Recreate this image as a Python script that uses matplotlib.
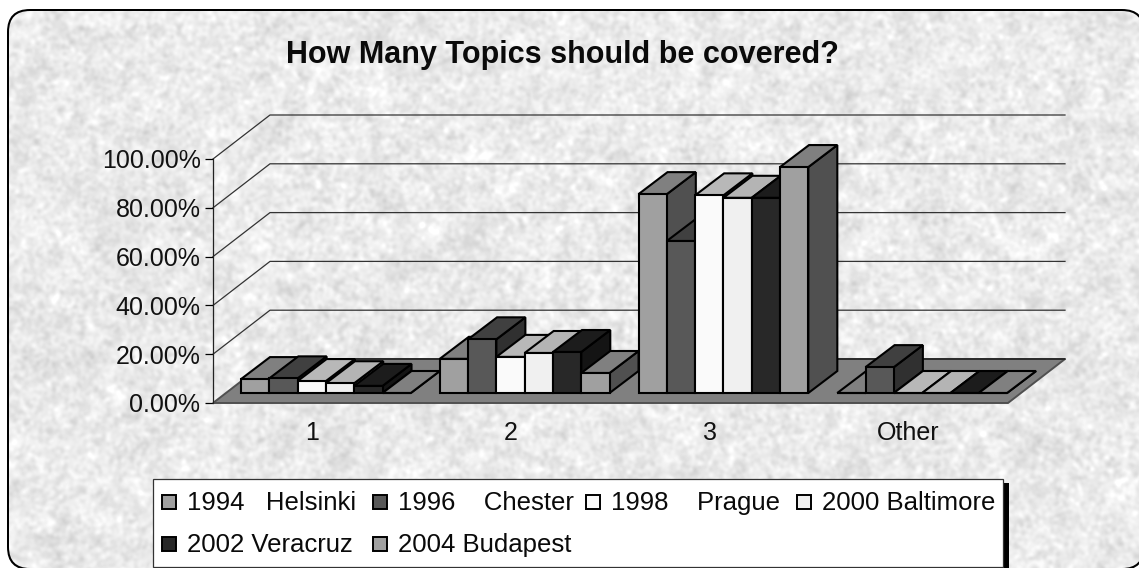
import numpy as np
import matplotlib
matplotlib.use('Agg')
import matplotlib.pyplot as plt
from matplotlib.patches import FancyBboxPatch, Polygon, Rectangle

plt.rcParams['font.family'] = ['Liberation Sans', 'DejaVu Sans']

W, H = 1139, 568

categories = ['1', '2', '3', 'Other']
series_names = ['1994   Helsinki', '1996    Chester', '1998    Prague',
                '2000 Baltimore', '2002 Veracruz', '2004 Budapest']
helsinki = [5.7, 14.0, 81.5, 0.0]
chester = [6.0, 22.0, 62.3, 10.6]
prague = [4.9, 14.8, 81.0, 0.0]
baltimore = [4.0, 16.4, 80.0, 0.0]
veracruz = [2.9, 16.8, 80.0, 0.0]
budapest = [0.0, 8.2, 92.6, 0.0]
y_ticks = [0, 20, 40, 60, 80, 100]
y_labels = ['0.00%', '20.00%', '40.00%', '60.00%', '80.00%', '100.00%']

series = [helsinki, chester, prague, baltimore, veracruz, budapest]
front_cols = ['#a0a0a0', '#585858', '#fafafa', '#f0f0f0', '#282828', '#a0a0a0']
top_cols = ['#808080', '#404040', '#b8b8b8', '#b4b4b4', '#1c1c1c', '#808080']
side_cols = ['#505050', '#303030', '#7c7c7c', '#787878', '#141414', '#505050']


def px_box(x0, y0, x1, y1):
    # pixel box, y down from the top, to figure fractions
    return [x0 / W, 1 - y1 / H, (x1 - x0) / W, (y1 - y0) / H]


def round_box(x0, y0, x1, y1, r, **kw):
    return FancyBboxPatch((x0 + r, y0 + r), x1 - x0 - 2 * r, y1 - y0 - 2 * r,
                          boxstyle='round,pad=%g,rounding_size=%g' % (r, r), **kw)


fig = plt.figure(figsize=(W / 100, H / 100), dpi=100, facecolor='white')

# paper texture behind everything
bg = fig.add_axes([0, 0, 1, 1], zorder=0)
rng = np.random.default_rng(4)
noise = rng.normal(size=(H, W))
fx = np.fft.fftfreq(W)[None, :]
fy = np.fft.fftfreq(H)[:, None]
fine = np.exp(-(fx ** 2 + fy ** 2) / (2 * 0.085 ** 2))
coarse = np.exp(-(fx ** 2 + fy ** 2) / (2 * 0.02 ** 2))
tex_f = np.fft.ifft2(np.fft.fft2(noise) * fine).real
tex_c = np.fft.ifft2(np.fft.fft2(noise) * coarse).real
tex = 234 + tex_f / tex_f.std() * 6 + tex_c / tex_c.std() * 2
bg.set_xlim(0, W)
bg.set_ylim(H, 0)
bg.axis('off')

# frame is a filled black box with the texture clipped just inside it,
# an unfilled stroke gets bent where it runs off the canvas
bg.add_patch(round_box(7, 9, 1145, 570, 23, fc='black', ec='none', zorder=1, clip_on=False))
inner = round_box(9, 11, 1143, 568, 21, fc='none', ec='none', transform=bg.transData)
img = bg.imshow(tex, cmap='gray', vmin=0, vmax=255, extent=(0, W, H, 0), aspect='auto', zorder=2)
img.set_clip_path(inner)

# the axes box is the front plane of the 3-d chart
ax = fig.add_axes(px_box(213, 159, 1008, 403), zorder=1)
ax.set_xlim(0, 4)
ax.set_ylim(0, 100)
ax.patch.set_alpha(0)
for s in ['top', 'right', 'bottom']:
    ax.spines[s].set_visible(False)
ax.spines['left'].set_linewidth(0.9)
ax.spines['left'].set_color('#222222')
ax.set_yticks(y_ticks)
ax.set_yticklabels(y_labels, fontsize=18, color='#111111')
ax.set_xticks(np.arange(len(categories)) + 0.5)
ax.set_xticklabels(categories, fontsize=18, color='#111111')
ax.tick_params(axis='y', length=6, width=0.9, pad=3)
ax.tick_params(axis='x', length=0, pad=13)

wall_dx = 57 / 198.75
wall_dy = 44 / 2.44
bar_dx = 29 / 198.75
bar_dy = 22 / 2.44
front_dx = 0.141
front_dy = 10 / 2.44
bar_w = 28.3 / 198.75

# floor
ax.add_patch(Polygon([(0, 0), (4, 0), (4 + wall_dx, wall_dy), (wall_dx, wall_dy)],
                     fc='#808080', ec='#505050', lw=1.4, clip_on=False, zorder=2))
ax.plot([wall_dx, 4 + wall_dx], [wall_dy, wall_dy], color='#222222', lw=1.1,
        clip_on=False, zorder=2)

# gridlines on both walls
for t in y_ticks[1:]:
    ax.plot([0, wall_dx, 4 + wall_dx], [t, t + wall_dy, t + wall_dy],
            color='#333333', lw=0.9, clip_on=False, zorder=1)


def draw_bar(x, base, h, i):
    x2 = x + bar_w
    top = base + h
    ec = dict(ec='black', lw=1.5, clip_on=False, zorder=3, joinstyle='miter')
    ax.add_patch(Polygon([(x2, base), (x2 + bar_dx, base + bar_dy),
                          (x2 + bar_dx, top + bar_dy), (x2, top)], fc=side_cols[i], **ec))
    ax.add_patch(Polygon([(x, top), (x2, top), (x2 + bar_dx, top + bar_dy),
                          (x + bar_dx, top + bar_dy)], fc=top_cols[i], **ec))
    ax.add_patch(Polygon([(x, base), (x2, base), (x2, top), (x, top)], fc=front_cols[i], **ec))


for g in range(len(categories)):
    for i, values in enumerate(series):
        draw_bar(g + front_dx + i * bar_w, front_dy, values[g], i)

fig.text(562 / W, 1 - 63.5 / H, 'How Many Topics should be covered?', ha='center', va='baseline',
         fontsize=22, fontweight='bold', color='#0a0a0a')

# legend drawn by hand, columns are evenly spaced, black shadow on the right
bg.add_patch(Rectangle((160, 483), 849, 90, fc='black', ec='none', zorder=4))
bg.add_patch(Rectangle((153, 479), 850, 88, fc='white', ec='#333333', lw=0.9, zorder=5))
leg_x = [162, 373, 586, 797, 162, 373]
leg_y = [502, 502, 502, 502, 544, 544]
for i, name in enumerate(series_names):
    bg.add_patch(Rectangle((leg_x[i], leg_y[i] - 7), 14, 14, fc=front_cols[i], ec='black',
                           lw=1.4, zorder=6))
    bg.text(leg_x[i] + 25, leg_y[i] + 8, name, fontsize=18.5, ha='left', va='baseline',
            color='#0a0a0a', zorder=6)

fig.savefig('out.png', dpi=100)
